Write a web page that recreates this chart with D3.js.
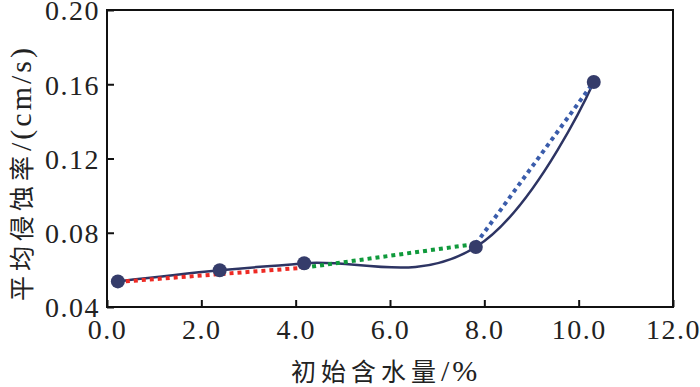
<!DOCTYPE html>
<html>
<head>
<meta charset="utf-8">
<script src="https://cdn.jsdelivr.net/npm/d3@7"></script>
<style>
  body { margin: 0; background: #fff; }
</style>
</head>
<body>
<div id="chart"></div>
<script>
// data
const moisture = [0.23, 2.39, 4.18, 7.82, 10.32];
const erosionRate = [0.0538, 0.0598, 0.0636, 0.0723, 0.1612];
const redSeg = [[0.23, 0.0535], [4.18, 0.0612]];
const greenSeg = [[4.18, 0.0612], [7.82, 0.0740]];
const blueSeg = [[7.82, 0.0740], [10.32, 0.1612]];
const xTicks = [0, 2, 4, 6, 8, 10, 12];
const yTicks = [0.04, 0.08, 0.12, 0.16, 0.20];

const serif = "'Liberation Serif', 'Times New Roman', serif";
const cjk = "'Noto Sans CJK SC', 'Noto Sans CJK TC', sans-serif";

const margin = { top: 10, right: 27, bottom: 80, left: 107 },
  width = 700 - margin.left - margin.right,
  height = 387 - margin.top - margin.bottom;

const root = d3.select("#chart")
  .append("svg")
  .attr("width", 700)
  .attr("height", 387);

const svg = root.append("g")
  .attr("transform", `translate(${margin.left},${margin.top})`);

const x = d3.scaleLinear().domain([0, 12]).range([0, width]);
const y = d3.scaleLinear().domain([0.04, 0.20]).range([height, 0]);

// axes, ticks pointing inward
svg.append("g")
  .attr("transform", `translate(0,${height})`)
  .call(d3.axisBottom(x).tickValues(xTicks).tickFormat(d3.format(".1f")).tickSizeInner(-7).tickSizeOuter(0).tickPadding(12))
  .call(g => g.select(".domain").remove())
  .call(g => g.selectAll("line").attr("stroke", "#111").attr("stroke-width", 2))
  .call(g => g.selectAll("text").style("font-family", serif).style("font-size", "28px")
    .style("letter-spacing", "1.5px").attr("fill", "#222"));

svg.append("g")
  .call(d3.axisLeft(y).tickValues(yTicks).tickFormat(d3.format(".2f")).tickSizeInner(-7).tickSizeOuter(0).tickPadding(7))
  .call(g => g.select(".domain").remove())
  .call(g => g.selectAll("line").attr("stroke", "#111").attr("stroke-width", 2))
  .call(g => g.selectAll("text").style("font-family", serif).style("font-size", "28px")
    .style("letter-spacing", "1.5px").attr("dy", "0.35em").attr("fill", "#222"));

// frame
svg.append("rect")
  .attr("width", width)
  .attr("height", height)
  .attr("fill", "none")
  .attr("stroke", "#111")
  .attr("stroke-width", 2);

// smooth fitted curve
const pts = moisture.map((m, i) => [m, erosionRate[i]]);
const line = d3.line().x(d => x(d[0])).y(d => y(d[1]));

svg.append("path")
  .attr("d", line.curve(d3.curveCardinal.tension(-0.25))(pts))
  .attr("fill", "none")
  .attr("stroke", "#2d3463")
  .attr("stroke-width", 2.5);

// dotted segments
const straight = d3.line().x(d => x(d[0])).y(d => y(d[1]));
[[redSeg, "#ee2a24"], [greenSeg, "#109a3c"], [blueSeg, "#3a5cab"]].forEach(([seg, c]) => {
  svg.append("path")
    .attr("d", straight(seg))
    .attr("fill", "none")
    .attr("stroke", c)
    .attr("stroke-width", 4)
    .attr("stroke-dasharray", "4 4");
});

// points
svg.selectAll(".pt")
  .data(pts)
  .join("circle")
  .attr("class", "pt")
  .attr("cx", d => x(d[0]))
  .attr("cy", d => y(d[1]))
  .attr("r", 7)
  .attr("fill", "#353c6a");

// axis titles: chinese part + unit part
function title(sel, zh, unit) {
  sel.append("tspan").text(zh)
    .style("font-family", cjk).style("font-size", "25px").style("letter-spacing", "5px");
  sel.append("tspan").text(unit)
    .style("font-family", serif).style("font-size", "30px").style("letter-spacing", "3px");
}

const xt = root.append("text")
  .attr("x", 291)
  .attr("y", 381)
  .attr("fill", "#222");
title(xt, "初始含水量", "/%");

const yt = root.append("text")
  .attr("transform", "translate(31,301) rotate(-90)")
  .attr("fill", "#222");
title(yt, "平均侵蚀率", "/(cm/s)");
</script>
</body>
</html>
